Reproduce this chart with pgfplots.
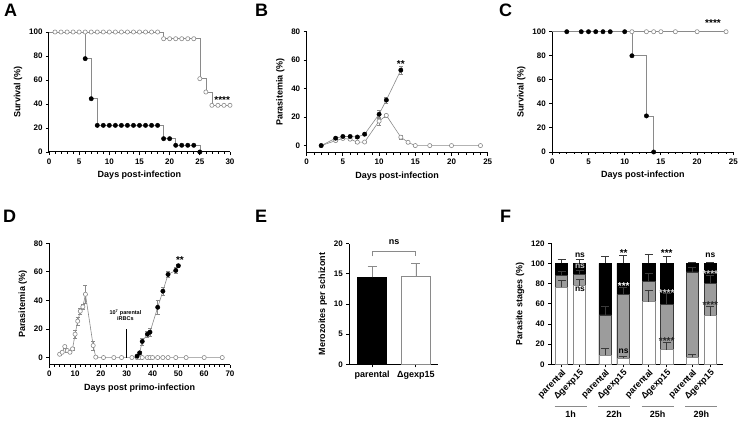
\documentclass[border=0pt]{standalone}
\usepackage{pgfplots}
\pgfplotsset{compat=1.18}
\usepackage{fontspec}
\setmainfont{Liberation Sans}
\definecolor{ln}{HTML}{8A8A8A}
\definecolor{bargray}{HTML}{9C9C9C}
\definecolor{eb}{HTML}{3A3A3A}
\pgfplotsset{
  gp/.style={
    scale only axis, clip=false,
    axis lines*=left,
    axis line style={line width=1pt, black},
    tick align=outside, tick pos=left,
    major tick length=3pt, minor tick length=1.8pt,
    major tick style={black, line width=0.9pt},
    minor tick style={black, line width=0.7pt},
    /pgf/number format/assume math mode=true,
    tick label style={font=\fontsize{8}{9}\selectfont\bfseries},
    label style={font=\fontsize{9}{10}\selectfont\bfseries},
    enlargelimits=false,
  },
  blk/.style={only marks, mark=*, mark size=2.2pt, mark options={fill=black, draw=black}},
  opn/.style={only marks, mark=*, mark size=2.1pt, mark options={fill=white, draw=ln, line width=0.6pt}},
  lnst/.style={ln, line width=0.6pt, no marks},
  ebar/.style={error bars/y dir=both, error bars/y explicit,
     error bars/error bar style={ln, line width=0.6pt},
     error bars/error mark options={ln, line width=0.6pt, mark size=2pt, rotate=90}},
  fbar/.style={ybar, bar width=12.5, bar shift=0pt, line width=0.6pt,
     error bars/y dir=plus, error bars/y explicit,
     error bars/error bar style={eb, line width=0.6pt},
     error bars/error mark options={eb, line width=0.6pt, mark size=4pt, rotate=90}},
}
\tikzset{ast/.style={font=\fontsize{10}{10}\selectfont\bfseries, inner sep=0pt, yshift=-2pt},
  nsn/.style={font=\fontsize{8.5}{8.5}\selectfont\bfseries, inner sep=0pt}}
\newcommand{\panel}[1]{\fontsize{18}{18}\selectfont\bfseries #1}
\newcommand{\grp}{\fontsize{9}{9}\selectfont\bfseries}
\begin{document}
\begin{tikzpicture}
\useasboundingbox (0,0) rectangle (740pt,-428pt);
\node[anchor=north west, inner sep=0pt] at (4pt,-4pt) {\panel{A}};
\node[anchor=north west, inner sep=0pt] at (255pt,-4pt) {\panel{B}};
\node[anchor=north west, inner sep=0pt] at (499pt,-4pt) {\panel{C}};
\node[anchor=north west, inner sep=0pt] at (3pt,-210pt) {\panel{D}};
\node[anchor=north west, inner sep=0pt] at (255pt,-210pt) {\panel{E}};
\node[anchor=north west, inner sep=0pt] at (500pt,-210pt) {\panel{F}};

% ---------------- A
\begin{axis}[gp, at={(49pt,-152pt)}, anchor=south west, width=181pt, height=120pt,
  xmin=0, xmax=30, ymin=0, ymax=100, xtick={0,5,...,30}, minor x tick num=4,
  ytick={0,20,...,100}, xlabel={Days post-infection}, ylabel={Survival (\%)}]
\addplot[lnst, const plot] coordinates {(0,100)(6,77.8)(7,44.4)(8,22.2)(19,11.1)(21,5.6)(25,0)};
\addplot[lnst, const plot] coordinates {(0,100)(19,94.4)(25,61.1)(26,50)(27,38.9)(30,38.9)};
\addplot[opn] coordinates {(1,100)(2,100)(3,100)(4,100)(5,100)(6,100)(7,100)(8,100)(9,100)(10,100)(11,100)(12,100)(13,100)(14,100)(15,100)(16,100)(17,100)(18,100)
 (19,94.4)(20,94.4)(21,94.4)(22,94.4)(23,94.4)(24,94.4)(25,61.1)(26,50)(27,38.9)(28,38.9)(29,38.9)(30,38.9)};
\addplot[blk] coordinates {(6,77.8)(7,44.4)(8,22.2)(9,22.2)(10,22.2)(11,22.2)(12,22.2)(13,22.2)(14,22.2)(15,22.2)(16,22.2)(17,22.2)(18,22.2)
 (19,11.1)(20,11.1)(21,5.6)(22,5.6)(23,5.6)(24,5.6)(25,0)};
\node[ast] at (axis cs:28.7,45) {****};
\end{axis}

% ---------------- B
\begin{axis}[gp, at={(306.7pt,-152.7pt)}, anchor=south west, width=181pt, height=121pt,
  xmin=0, xmax=25, ymin=-5, ymax=80, xtick={0,5,...,25}, minor x tick num=4,
  ytick={0,20,...,80}, xlabel={Days post-infection}, ylabel={Parasitemia (\%)}]
\addplot[lnst] coordinates {(2,0)(4,3.5)(5,5)(6,4.5)(7,2.4)(8,2.5)(10,17.2)(11,21.2)(13,5.9)(14,2.3)(15,0)(17,0)(20,0)(24,0)};
\addplot[lnst] coordinates {(2,0)(4,5.2)(5,6.4)(6,6.4)(7,6)(8,8)(10,22)(11,32)(13,53)};
\addplot[opn, ebar] coordinates {(2,0)+-(0,0.3)(4,3.5)+-(0,0.5)(5,5)+-(0,0.6)(6,4.5)+-(0,0.6)(7,2.4)+-(0,0.5)(8,2.5)+-(0,0.5)(10,17.2)+-(0,3)(11,21.2)+-(0,1)(13,5.9)+-(0,1.5)(14,2.3)+-(0,0.5)(15,0)+-(0,0.2)(17,0)+-(0,0)(20,0)+-(0,0)(24,0)+-(0,0)};
\addplot[blk, ebar] coordinates {(2,0)+-(0,0.3)(4,5.2)+-(0,0.8)(5,6.4)+-(0,0.8)(6,6.4)+-(0,0.8)(7,6)+-(0,0.8)(8,8)+-(0,1)(10,22)+-(0,2.5)(11,32)+-(0,2)(13,53)+-(0,3)};
\node[ast] at (axis cs:13,58.8) {**};
\end{axis}

% ---------------- C
\begin{axis}[gp, at={(552.3pt,-152pt)}, anchor=south west, width=181pt, height=120.3pt,
  xmin=0, xmax=25, ymin=0, ymax=100, xtick={0,5,...,25}, minor x tick num=4,
  ytick={0,20,...,100}, xlabel={Days post-infection}, ylabel={Survival (\%)}]
\addplot[lnst] coordinates {(0,100)(24,100)};
\addplot[lnst, const plot] coordinates {(2,100)(11,80)(13,30)(14,0)};
\addplot[opn] coordinates {(11,100)(13,100)(14,100)(15,100)(17,100)(20,100)(24,100)};
\addplot[blk] coordinates {(2,100)(4,100)(5,100)(6,100)(7,100)(8,100)(10,100)(11,80)(13,30)(14,0)};
\node[ast] at (axis cs:22.2,109) {****};
\end{axis}

% ---------------- D
\begin{axis}[gp, at={(49.3pt,-364.7pt)}, anchor=south west, width=180.7pt, height=121.4pt,
  xmin=0, xmax=70, ymin=-5, ymax=80, xtick={0,10,...,70}, minor x tick num=4,
  ytick={0,20,...,80}, xlabel={Days post primo-infection}, ylabel={Parasitemia (\%)}]
\addplot[lnst] coordinates {(4,2.3)(5,3.7)(6,7.7)(7,4.9)(8,3.7)(9,6.1)(10,16.4)(11,25.5)(12,32.5)(13,35.5)(14,44.3)(17,8.4)(18,0.3)(21,0)(25,0)(28,0)(32,0)(34,0)(35,0)(36,0)(38,0)(39,0)(40,0)(42,0)(44,0)(46,0)(49,0)(53,0)(60,0)(67,0)};
\addplot[lnst] coordinates {(34,1)(35,3.3)(36,11.3)(38,16.4)(39,17.8)(42,35.2)(44,46.5)(46,58.2)(49,61)(50,64.3)};
\addplot[opn, ebar] coordinates {(4,2.3)+-(0,0.5)(5,3.7)+-(0,0.6)(6,7.7)+-(0,1)(7,4.9)+-(0,1)(8,3.7)+-(0,0.8)(9,6.1)+-(0,1)(10,16.4)+-(0,3)(11,25.5)+-(0,3)(12,32.5)+-(0,2)(13,35.5)+-(0,2)(14,44.3)+-(0,6)(17,8.4)+-(0,3)(18,0.3)+-(0,0.3)
 (21,0)+-(0,0)(25,0)+-(0,0)(28,0)+-(0,0)(32,0)+-(0,0)(34,0)+-(0,0)(35,0)+-(0,0)(36,0)+-(0,0)(38,0)+-(0,0)(39,0)+-(0,0)(40,0)+-(0,0)(42,0)+-(0,0)(44,0)+-(0,0)(46,0)+-(0,0)(49,0)+-(0,0)(53,0)+-(0,0)(60,0)+-(0,0)(67,0)+-(0,0)};
\addplot[blk, ebar] coordinates {(34,1)+-(0,0.5)(35,3.3)+-(0,1)(36,11.3)+-(0,2.5)(38,16.4)+-(0,2)(39,17.8)+-(0,3)(42,35.2)+-(0,5)(44,46.5)+-(0,3)(46,58.2)+-(0,2)(49,61)+-(0,2)(50,64.3)+-(0,1)};
\draw[black, line width=0.7pt] (axis cs:30,0) -- (axis cs:30,19.7);
\node[font=\fontsize{5.5}{6}\selectfont\bfseries, align=center] at (axis cs:29.5,29.8) {10\textsuperscript{7} parental\\iRBCs};
\node[ast] at (axis cs:50.6,70) {**};
\end{axis}

% ---------------- E
\begin{axis}[gp, at={(349.3pt,-364.3pt)}, anchor=south west, width=89pt, height=120.6pt,
  xmin=-0.524, xmax=1.513, ymin=0, ymax=20, xtick={0,1}, xticklabels={parental,Δgexp15},
  xticklabel style={font=\fontsize{9}{10}\selectfont\bfseries},
  ytick={0,5,...,20}, ylabel={Merozoites per schizont}]
\addplot[ybar, bar width=0.66, bar shift=0pt, fill=black, draw=black, line width=0.6pt,
  error bars/y dir=plus, error bars/y explicit, error bars/error bar style={ln, line width=0.7pt},
  error bars/error mark options={ln, line width=0.7pt, mark size=4.5pt, rotate=90}] coordinates {(0,14.4)+-(0,1.9)};
\addplot[ybar, bar width=0.66, bar shift=0pt, fill=white, draw=ln, line width=0.8pt,
  error bars/y dir=plus, error bars/y explicit, error bars/error bar style={ln, line width=0.7pt},
  error bars/error mark options={ln, line width=0.7pt, mark size=4.5pt, rotate=90}] coordinates {(1,14.6)+-(0,2.1)};
\draw[ln, line width=0.8pt] (axis cs:0,17.9) -- (axis cs:0,18.8) -- (axis cs:1,18.8) -- (axis cs:1,17.9);
\node[font=\fontsize{9}{9}\selectfont\bfseries] at (axis cs:0.5,20.2) {ns};
\end{axis}

% ---------------- F
\begin{axis}[gp, at={(551pt,-364.3pt)}, anchor=south west, width=172pt, height=121pt,
  xmin=0, xmax=172, ymin=0, ymax=120, ytick={0,20,...,120},
  xtick={10.5,28.5,54.1,72.1,97.7,115.7,141.3,159.3},
  xticklabels={parental,Δgexp15,parental,Δgexp15,parental,Δgexp15,parental,Δgexp15},
  xticklabel style={rotate=45, anchor=north east, inner sep=1pt, font=\fontsize{9}{10}\selectfont\bfseries},
  ylabel={Parasite stages (\%)}]
\addplot[fbar, fill=black, draw=black] coordinates {(10.5,100)+-(0,4.2)(28.5,100)+-(0,4)(54.1,100)+-(0,7.4)(72.1,100)+-(0,7.7)(97.7,100)+-(0,9.4)(115.7,100)+-(0,7.4)(141.3,100)+-(0,1.2)(159.3,100)+-(0,1.2)};
\addplot[fbar, fill=bargray, draw=eb] coordinates {(10.5,87.9)+-(0,4)(28.5,88.9)+-(0,3.9)(54.1,48.9)+-(0,8.9)(72.1,69)+-(0,7.4)(97.7,82.6)+-(0,7.7)(115.7,59.5)+-(0,10.5)(141.3,91.6)+-(0,4.6)(159.3,80.4)+-(0,7.5)};
\addplot[fbar, fill=white, draw=ln] coordinates {(10.5,76.4)+-(0,7.2)(28.5,78)+-(0,6)(54.1,8.9)+-(0,7)(72.1,6)+-(0,2.2)(97.7,62.1)+-(0,11.3)(115.7,14.5)+-(0,6.9)(141.3,6.9)+-(0,3)(159.3,48.2)+-(0,9.6)};
\node[nsn] at (axis cs:29,107.7) {ns};
\node[nsn, text=gray!45] at (axis cs:29,96.8) {ns};
\node[nsn] at (axis cs:29,74.4) {ns};
\node[ast] at (axis cs:72.7,112.4) {**};
\node[ast, text=white] at (axis cs:72.7,80) {***};
\node[nsn] at (axis cs:72.7,13.2) {ns};
\node[ast] at (axis cs:115.7,112.4) {***};
\node[ast, text=gray!35] at (axis cs:115.7,72.7) {****};
\node[ast, text=black!85] at (axis cs:115.7,25) {****};
\node[nsn] at (axis cs:159.3,107.7) {ns};
\node[ast, text=gray!35] at (axis cs:159.3,91.3) {****};
\node[ast, text=black!85] at (axis cs:159.3,61) {****};
\draw[ln, line width=0.8pt] (axis cs:3.5,-42) -- (axis cs:35.5,-42);
\draw[ln, line width=0.8pt] (axis cs:47.1,-42) -- (axis cs:79.1,-42);
\draw[ln, line width=0.8pt] (axis cs:90.7,-42) -- (axis cs:122.7,-42);
\draw[ln, line width=0.8pt] (axis cs:134.3,-42) -- (axis cs:166.3,-42);
\node[font=\grp] at (axis cs:19.5,-49.5) {1h};
\node[font=\grp] at (axis cs:63.1,-49.5) {22h};
\node[font=\grp] at (axis cs:106.7,-49.5) {25h};
\node[font=\grp] at (axis cs:150.3,-49.5) {29h};
\end{axis}
\end{tikzpicture}
\end{document}
